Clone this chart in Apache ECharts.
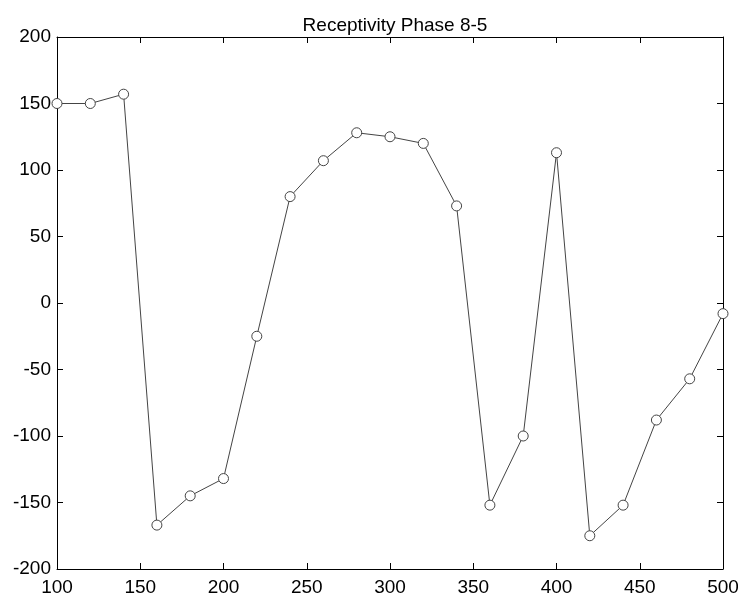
<!DOCTYPE html>
<html>
<head>
<meta charset="utf-8">
<script src="https://cdn.jsdelivr.net/npm/echarts@6/dist/echarts.min.js"></script>
<style>html,body{margin:0;padding:0;background:#fff}#c{width:738px;height:607px}</style>
</head>
<body>
<div id="c"></div>
<script>
const xValues = [100,120,140,160,180,200,220,240,260,280,300,320,340,360,380,400,420,440,460,480,500];
const yValues = [150,150,157,-167,-145,-132,-25,80,107,128,125,120,73,-152,-100,113,-175,-152,-88,-57,-8];
const titleText = 'Receptivity Phase 8-5';

const data = xValues.map((x,i)=>[x,yValues[i]]);
const font = 'Liberation Sans, Arial, sans-serif';
const chart = echarts.init(document.getElementById('c'));
function axis(extra){
  return Object.assign({
    type:'value',
    axisLine:{show:true,onZero:false,lineStyle:{color:'#000',width:1}},
    axisTick:{show:true,inside:true,length:6,lineStyle:{color:'#000'}},
    splitLine:{show:false}
  },extra);
}
chart.setOption({
  animation:false,
  backgroundColor:'#fff',
  title:{text:titleText,left:390,top:11,textAlign:'center',
    textStyle:{fontFamily:font,fontSize:19,fontWeight:'normal',color:'#000'}},
  grid:{left:57,right:15,top:37,bottom:38,containLabel:false,outerBoundsMode:'none'},
  xAxis:[
    axis({min:100,max:500,interval:50,position:'bottom',
      axisLabel:{fontFamily:font,fontSize:19,color:'#000',margin:9}}),
    axis({min:100,max:500,interval:50,position:'top',axisLabel:{show:false}})
  ],
  yAxis:[
    axis({min:-200,max:200,interval:50,position:'left',
      axisLabel:{fontFamily:font,fontSize:19,color:'#000',margin:6}}),
    axis({min:-200,max:200,interval:50,position:'right',axisLabel:{show:false}})
  ],
  series:[{
    type:'line',
    data:data,
    xAxisIndex:0,yAxisIndex:0,
    symbol:'circle',symbolSize:10,
    itemStyle:{color:'#fff',borderColor:'#444',borderWidth:1},
    lineStyle:{color:'#444',width:1},
    emphasis:{disabled:true}
  }]
});
</script>
</body>
</html>
